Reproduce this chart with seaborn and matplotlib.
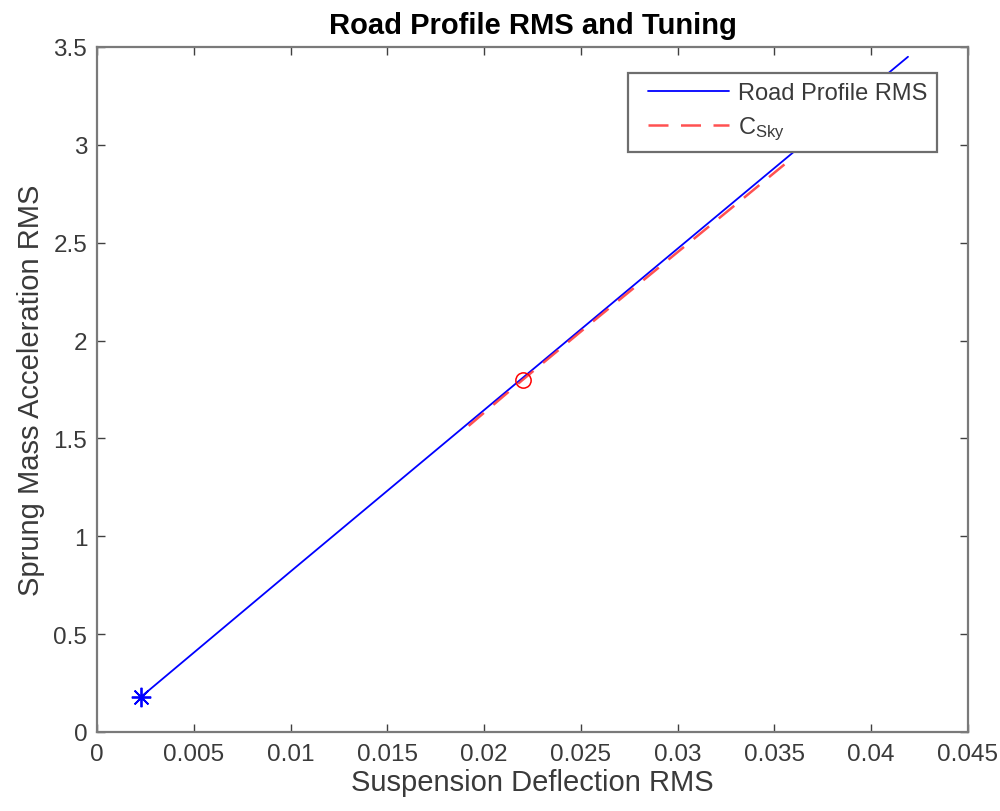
import numpy as np
import pandas as pd
import matplotlib
matplotlib.use("Agg")
import matplotlib.pyplot as plt
import seaborn as sns

# Road profile RMS sweep (suspension deflection RMS vs sprung mass acceleration RMS)
road_defl = [0.00227, 0.0100, 0.0200, 0.0300, 0.0419]
road_acc = [0.179, 0.820, 1.645, 2.470, 3.450]

# Skyhook damping coefficient sweep
sky_defl = [0.0192, 0.0220, 0.0260, 0.0300, 0.0330, 0.03564]
sky_acc = [1.564, 1.800, 2.128, 2.452, 2.695, 2.910]

# Highlighted operating points
start_pt = (0.00227, 0.179)
tuned_pt = (0.0220, 1.800)

x_ticks = [0, 0.005, 0.01, 0.015, 0.02, 0.025, 0.03, 0.035, 0.04, 0.045]
y_ticks = [0, 0.5, 1, 1.5, 2, 2.5, 3, 3.5]

sns.set_theme(style="white")
plt.rcParams["font.family"] = ["Liberation Sans", "DejaVu Sans"]

TXT = "#3a3a3a"

fig = plt.figure(figsize=(10, 8.12), dpi=100)
ax = fig.add_axes([0.097, 0.0973, 0.871, 0.8436])

road_df = pd.DataFrame({"x": road_defl, "y": road_acc})
sky_df = pd.DataFrame({"x": sky_defl, "y": sky_acc})

sns.lineplot(data=road_df, x="x", y="y", ax=ax, color="#0000ff", lw=1.3,
             label="Road Profile RMS", sort=False)
sns.lineplot(data=sky_df, x="x", y="y", ax=ax, color="#ff3333", lw=1.8,
             linestyle=(0, (8, 5)), label="$\\mathregular{C_{Sky}}$",
             sort=False, alpha=0.85)
ax.plot([start_pt[0]], [start_pt[1]], marker=(8, 2, 0), color="#0000ff", ms=14,
        markeredgewidth=1.3, linestyle="none")
ax.plot([tuned_pt[0]], [tuned_pt[1]], marker="o", mfc="none", mec="#ff0000",
        ms=11, mew=1.1, linestyle="none")

ax.set_xlim(0, 0.045)
ax.set_ylim(0, 3.5)
ax.set_xticks(x_ticks)
ax.set_xticklabels([f"{v:g}" for v in x_ticks])
ax.set_yticks(y_ticks)
ax.set_yticklabels([f"{v:g}" for v in y_ticks])

ax.tick_params(direction="in", length=6, width=1, color="#404040",
               labelsize=17.5, labelcolor=TXT, top=True, right=True,
               bottom=True, left=True)
ax.tick_params(axis="x", pad=8)
ax.tick_params(axis="y", pad=7)
for s in ax.spines.values():
    s.set_visible(True)
    s.set_color("#7a7a7a")
    s.set_linewidth(1.6)

ax.set_xlabel("Suspension Deflection RMS", fontsize=21, color=TXT, labelpad=2)
ax.set_ylabel("Sprung Mass Acceleration RMS", fontsize=21, color=TXT, labelpad=6)
ax.set_title("Road Profile RMS and Tuning", fontsize=21, fontweight="bold",
             color="#000000", pad=10)

leg = ax.legend(loc="upper right", bbox_to_anchor=(0.9644, 0.962), fontsize=17,
                frameon=True, fancybox=False, framealpha=1, handlelength=3.85,
                borderpad=0.4, labelspacing=0.45, handletextpad=0.4,
                borderaxespad=0)
leg.get_frame().set_edgecolor("#6e6e6e")
leg.get_frame().set_linewidth(1.6)
for t in leg.get_texts():
    t.set_color(TXT)
# leave some blank space before each legend sample line
for ln in leg.get_lines():
    xd = np.asarray(ln.get_xdata(), dtype=float)
    ln.set_xdata(np.linspace(xd[0] + 7, xd[-1], len(xd)))

fig.savefig("out.png", dpi=100, facecolor="white")
